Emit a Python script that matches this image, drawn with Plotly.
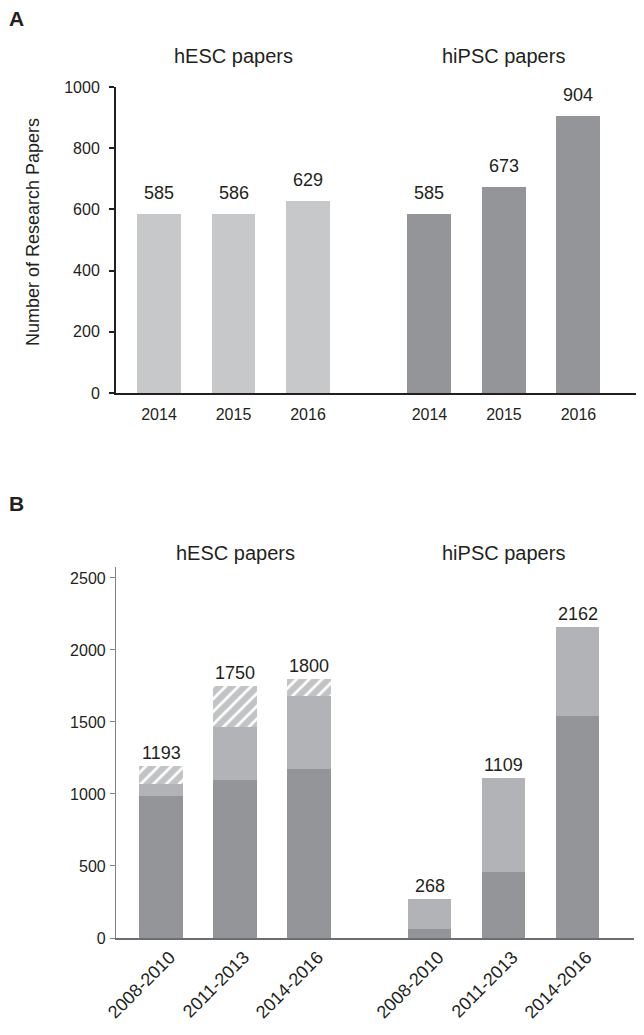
import plotly.graph_objects as go

# ---------------- data ----------------
years_A = ["2014", "2015", "2016"]
hesc_A = [585, 586, 629]
hipsc_A = [585, 673, 904]

periods_B = ["2008-2010", "2011-2013", "2014-2016"]
hesc_B_dark = [986, 1097, 1174]
hesc_B_light = [83, 368, 506]
hesc_B_hatch = [124, 285, 120]
hesc_B_total = [1193, 1750, 1800]
hipsc_B_dark = [64, 458, 1540]
hipsc_B_light = [204, 651, 622]
hipsc_B_total = [268, 1109, 2162]

group_titles = ["hESC papers", "hiPSC papers"]

# ---------------- layout helpers ----------------
OFF = 8  # browser body margin
W, H = 644 - OFF, 1035 - OFF
GAP = 0.63
pos1 = [i for i in range(3)]
pos2 = [i + 3 + GAP for i in range(3)]
pos_all = pos1 + pos2
BW = 0.59
LABEL_SHIFT_B = 0.12  # rotated tick labels sit slightly right of bar centres

TXT = "#231f20"
FONT = "Liberation Sans, Arial, sans-serif"
C_LIGHT_A = "#c7c8ca"
C_DARK = "#939598"
C_MID = "#b2b3b6"
C_HATCH = "#c2c3c5"


def px_x(p):
    return (p - OFF) / W


def px_y(p):
    return 1 - (p - OFF) / H


fig = go.Figure()

# Panel A
fig.add_trace(go.Bar(x=pos1, y=hesc_A, width=BW, marker=dict(color=C_LIGHT_A, line=dict(width=0)),
                     xaxis="x", yaxis="y", showlegend=False, hoverinfo="skip"))
fig.add_trace(go.Bar(x=pos2, y=hipsc_A, width=BW, marker=dict(color=C_DARK, line=dict(width=0)),
                     xaxis="x", yaxis="y", showlegend=False, hoverinfo="skip"))

# Panel B stacked
fig.add_trace(go.Bar(x=pos_all, y=hesc_B_dark + hipsc_B_dark, width=BW,
                     marker=dict(color=C_DARK, line=dict(width=0)),
                     xaxis="x2", yaxis="y2", showlegend=False, hoverinfo="skip"))
fig.add_trace(go.Bar(x=pos_all, y=hesc_B_light + hipsc_B_light, width=BW,
                     marker=dict(color=C_MID, line=dict(width=0)),
                     xaxis="x2", yaxis="y2", showlegend=False, hoverinfo="skip"))
fig.add_trace(go.Bar(x=pos1, y=hesc_B_hatch, width=BW,
                     marker=dict(color=C_HATCH, line=dict(width=0),
                                 pattern=dict(shape="/", fgcolor="white", bgcolor=C_HATCH,
                                              size=9, solidity=0.3, fillmode="replace")),
                     xaxis="x2", yaxis="y2", showlegend=False, hoverinfo="skip"))

annotations = []
# value labels
for p, v in zip(pos_all, hesc_A + hipsc_A):
    annotations.append(dict(x=p, y=v, xref="x", yref="y", text=str(v), showarrow=False,
                            yanchor="middle", yshift=21, font=dict(size=18, color=TXT, family=FONT)))
for p, v in zip(pos_all, hesc_B_total + hipsc_B_total):
    annotations.append(dict(x=p, y=v, xref="x2", yref="y2", text=str(v), showarrow=False,
                            yanchor="middle", yshift=13, font=dict(size=18, color=TXT, family=FONT)))
# group titles
for xr, ypx in (("x", 56), ("x2", 553)):
    for t, p in zip(group_titles, (pos1[1], pos2[1])):
        annotations.append(dict(x=p, y=px_y(ypx), xref=xr, yref="paper", text=t, showarrow=False,
                                yanchor="middle", font=dict(size=20, color=TXT, family=FONT)))
# panel letters
annotations.append(dict(x=px_x(7), y=px_y(19), xref="paper", yref="paper", text="<b>A</b>",
                        showarrow=False, xanchor="left", yanchor="middle",
                        font=dict(size=21, color=TXT, family=FONT)))
annotations.append(dict(x=px_x(7), y=px_y(503), xref="paper", yref="paper", text="<b>B</b>",
                        showarrow=False, xanchor="left", yanchor="middle",
                        font=dict(size=21, color=TXT, family=FONT)))
# y-axis title panel A
annotations.append(dict(x=px_x(33), y=px_y(232), xref="paper", yref="paper",
                        text="Number of Research Papers", textangle=-90, showarrow=False,
                        xanchor="center", yanchor="middle",
                        font=dict(size=18, color=TXT, family=FONT)))

x_left = 116
xr_A = [(x_left - 159) / 74.5, (644 - 159) / 74.5]
xr_B = [(x_left - 161) / 74.0, (634 - 161) / 74.0]

fig.update_layout(
    width=W, height=H, autosize=False,
    margin=dict(l=0, r=0, t=0, b=0),
    paper_bgcolor="white", plot_bgcolor="white",
    barmode="stack", bargap=0,
    font=dict(family=FONT, color=TXT),
    annotations=annotations,
    xaxis=dict(domain=[px_x(x_left), 1], range=xr_A, showline=True, linecolor=TXT, linewidth=2,
               ticks="", tickvals=pos_all, ticktext=years_A + years_A, showgrid=False,
               zeroline=False, tickfont=dict(size=16, color=TXT), ticklabelstandoff=6,
               anchor="y", fixedrange=True, automargin=False),
    yaxis=dict(domain=[px_y(393), px_y(87)], range=[0, 1000], showline=True, linecolor=TXT,
               linewidth=2, ticks="outside", ticklen=5, tickwidth=1.5, tickcolor=TXT,
               dtick=200, showgrid=False, zeroline=False, tickfont=dict(size=16, color=TXT),
               ticklabelstandoff=6, anchor="x", fixedrange=True, automargin=False),
    xaxis2=dict(domain=[px_x(x_left), px_x(634)], range=xr_B, showline=True, linecolor="#6d6e71",
                linewidth=1.5, ticks="", tickvals=[p + LABEL_SHIFT_B for p in pos_all],
                ticktext=periods_B + periods_B,
                tickangle=-45, showgrid=False, zeroline=False,
                tickfont=dict(size=18, color=TXT), anchor="y2", fixedrange=True, automargin=False),
    yaxis2=dict(domain=[px_y(938), px_y(567)], range=[0, 2576], showline=True, linecolor="#808285",
                linewidth=1.2, ticks="outside", ticklen=5, tickwidth=1.2, tickcolor="#808285",
                tickvals=[0, 500, 1000, 1500, 2000, 2500], showgrid=False, zeroline=False,
                tickfont=dict(size=16, color=TXT), ticklabelstandoff=1, anchor="x2",
                fixedrange=True, automargin=False),
)

fig.write_html("out.html")
